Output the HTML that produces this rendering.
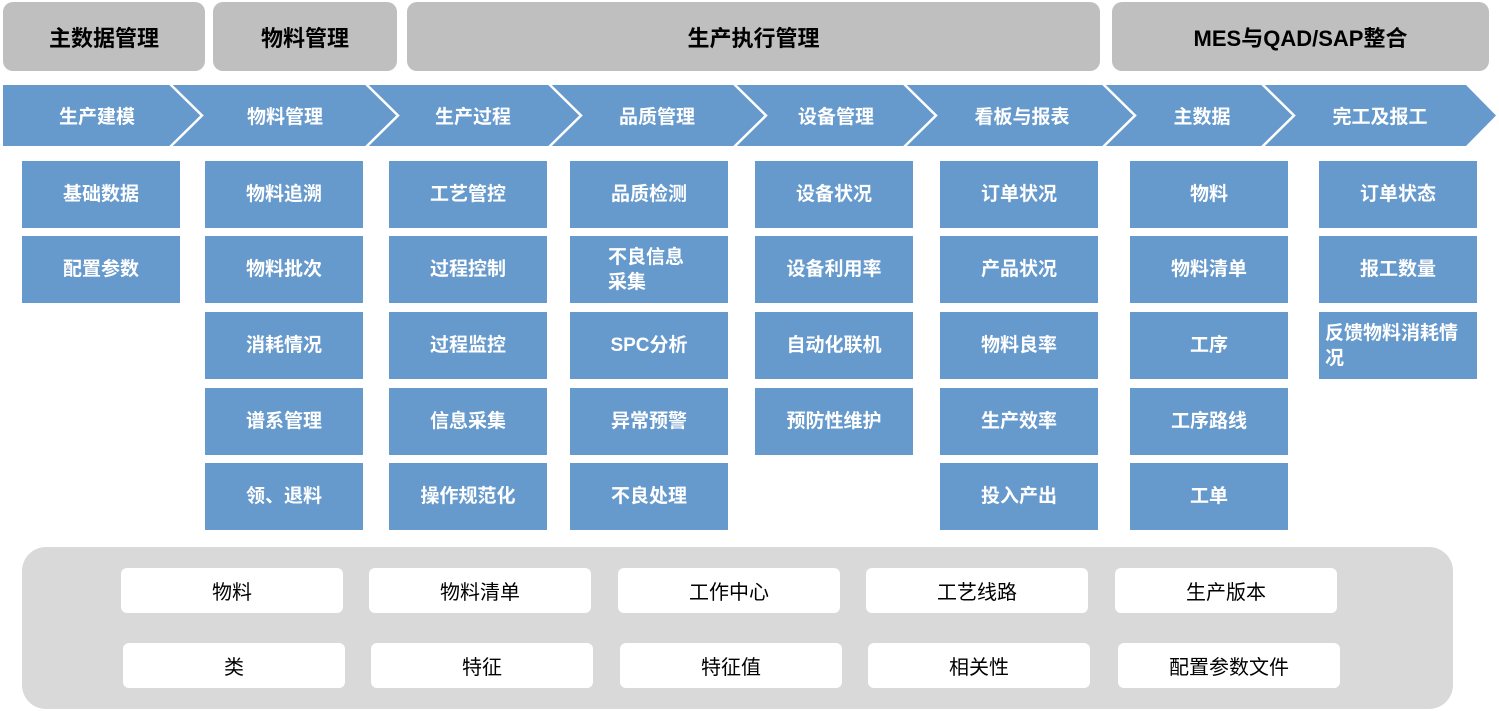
<!DOCTYPE html>
<html><head><meta charset="utf-8"><style>
body{margin:0;width:1499px;height:711px;background:#fff;position:relative;overflow:hidden;font-family:"Liberation Sans","Noto Sans CJK SC",sans-serif}
.h{position:absolute;background:#bfbfbf;border-radius:10px;display:flex;align-items:center;justify-content:center;font-weight:bold;font-size:22px;color:#000}
.b{position:absolute;background:#6699cc;color:#fff;font-weight:bold;font-size:19px;display:flex;align-items:center;justify-content:center;width:158px;height:67px;text-align:left;line-height:25px}
.w{position:absolute;background:#fff;border-radius:6px;display:flex;align-items:center;justify-content:center;font-size:20px;color:#000;width:222px;height:45px}
.c{position:absolute;top:84px;height:62px;display:flex;align-items:center;justify-content:center;color:#fff;font-weight:bold;font-size:19px}
</style></head><body>
<div class="h" style="left:3px;top:2px;width:202px;height:69px">主数据管理</div>
<div class="h" style="left:213px;top:2px;width:184px;height:69px">物料管理</div>
<div class="h" style="left:407px;top:2px;width:693px;height:69px">生产执行管理</div>
<div class="h" style="left:1112px;top:2px;width:377px;height:69px">MES与QAD/SAP整合</div>
<svg style="position:absolute;left:0;top:0" width="1499" height="160">
<polygon points="3,85 1466,85 1496,115.5 1466,146 3,146" fill="#6699cc"/>
<g fill="none" stroke="#fff" stroke-width="2.5">
<polyline points="170,84 202,115.5 170,147"/>
<polyline points="366,84 398,115.5 366,147"/>
<polyline points="549,84 581,115.5 549,147"/>
<polyline points="734,84 766,115.5 734,147"/>
<polyline points="904,84 936,115.5 904,147"/>
<polyline points="1103,84 1135,115.5 1103,147"/>
<polyline points="1262,84 1294,115.5 1262,147"/>
</g></svg>
<div class="c" style="left:3px;width:188px">生产建模</div>
<div class="c" style="left:200px;width:170px">物料管理</div>
<div class="c" style="left:390px;width:166px">生产过程</div>
<div class="c" style="left:572px;width:170px">品质管理</div>
<div class="c" style="left:758px;width:156px">设备管理</div>
<div class="c" style="left:930px;width:184px">看板与报表</div>
<div class="c" style="left:1126px;width:152px">主数据</div>
<div class="c" style="left:1290px;width:180px">完工及报工</div>

<div class="b" style="left:22px;top:161px">基础数据</div>
<div class="b" style="left:22px;top:236px">配置参数</div>

<div class="b" style="left:205px;top:161px">物料追溯</div>
<div class="b" style="left:205px;top:236px">物料批次</div>
<div class="b" style="left:205px;top:312px">消耗情况</div>
<div class="b" style="left:205px;top:388px">谱系管理</div>
<div class="b" style="left:205px;top:463px">领、退料</div>

<div class="b" style="left:389px;top:161px">工艺管控</div>
<div class="b" style="left:389px;top:236px">过程控制</div>
<div class="b" style="left:389px;top:312px">过程监控</div>
<div class="b" style="left:389px;top:388px">信息采集</div>
<div class="b" style="left:389px;top:463px">操作规范化</div>

<div class="b" style="left:570px;top:161px">品质检测</div>
<div class="b" style="left:570px;top:236px;justify-content:flex-start;padding-left:38px;box-sizing:border-box">不良信息<br>采集</div>
<div class="b" style="left:570px;top:312px">SPC分析</div>
<div class="b" style="left:570px;top:388px">异常预警</div>
<div class="b" style="left:570px;top:463px">不良处理</div>

<div class="b" style="left:755px;top:161px">设备状况</div>
<div class="b" style="left:755px;top:236px">设备利用率</div>
<div class="b" style="left:755px;top:312px">自动化联机</div>
<div class="b" style="left:755px;top:388px">预防性维护</div>

<div class="b" style="left:940px;top:161px">订单状况</div>
<div class="b" style="left:940px;top:236px">产品状况</div>
<div class="b" style="left:940px;top:312px">物料良率</div>
<div class="b" style="left:940px;top:388px">生产效率</div>
<div class="b" style="left:940px;top:463px">投入产出</div>

<div class="b" style="left:1130px;top:161px">物料</div>
<div class="b" style="left:1130px;top:236px">物料清单</div>
<div class="b" style="left:1130px;top:312px">工序</div>
<div class="b" style="left:1130px;top:388px">工序路线</div>
<div class="b" style="left:1130px;top:463px">工单</div>

<div class="b" style="left:1319px;top:161px">订单状态</div>
<div class="b" style="left:1319px;top:236px">报工数量</div>
<div class="b" style="left:1319px;top:312px;justify-content:flex-start;padding-left:6px;box-sizing:border-box">反馈物料消耗情<br>况</div>

<div style="position:absolute;left:22px;top:547px;width:1431px;height:162px;background:#d9d9d9;border-radius:24px"></div>
<div class="w" style="left:121px;top:568px">物料</div>
<div class="w" style="left:369px;top:568px">物料清单</div>
<div class="w" style="left:618px;top:568px">工作中心</div>
<div class="w" style="left:866px;top:568px">工艺线路</div>
<div class="w" style="left:1115px;top:568px">生产版本</div>
<div class="w" style="left:123px;top:643px">类</div>
<div class="w" style="left:371px;top:643px">特征</div>
<div class="w" style="left:620px;top:643px">特征值</div>
<div class="w" style="left:868px;top:643px">相关性</div>
<div class="w" style="left:1118px;top:643px">配置参数文件</div>
</body></html>
